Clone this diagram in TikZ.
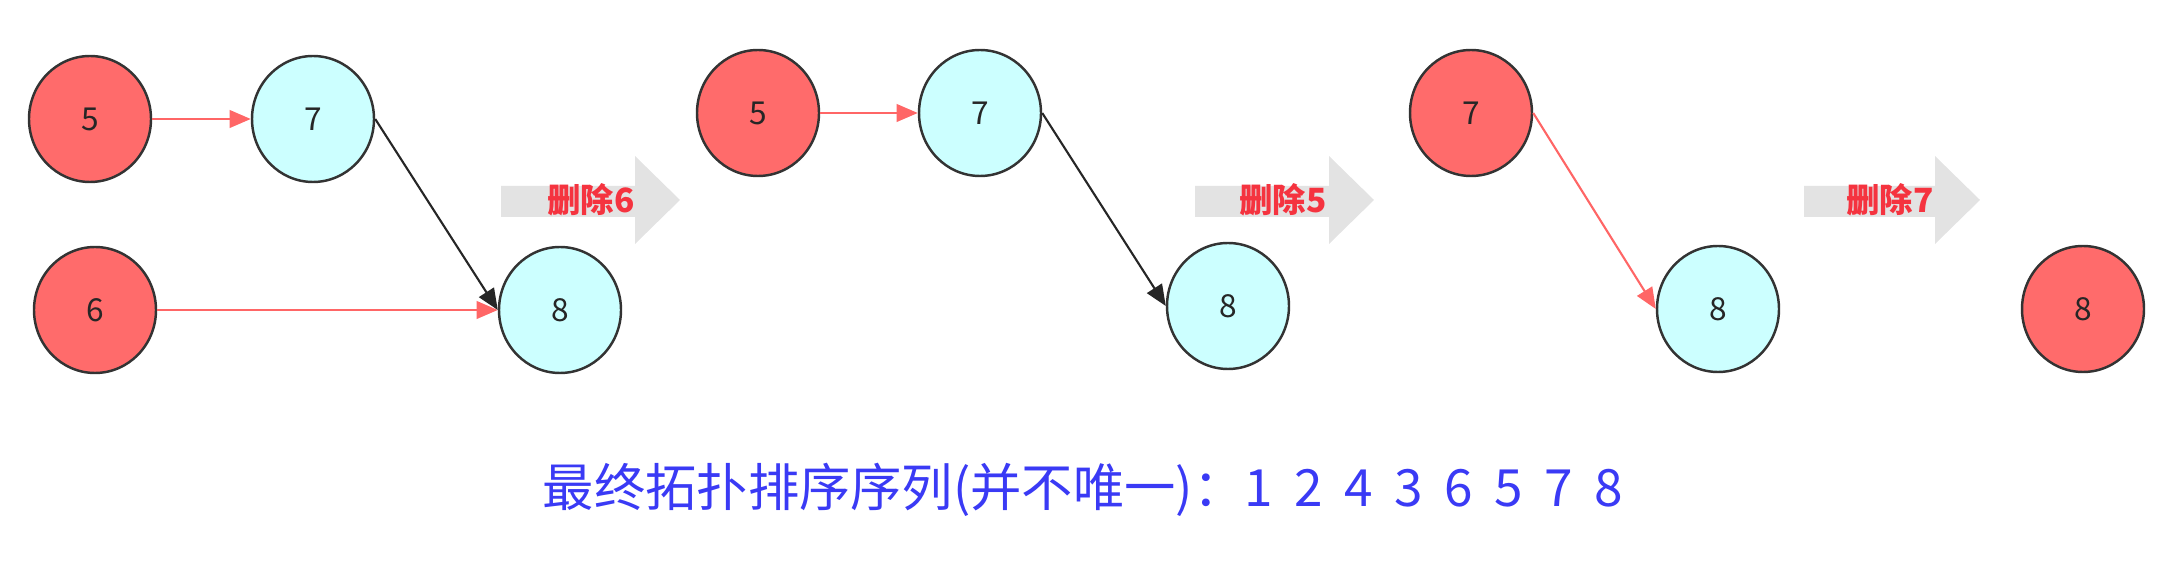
\documentclass[tikz,border=0pt]{standalone}
\usepackage{fontspec}
\setmainfont{Noto Sans CJK SC}
\usetikzlibrary{shapes.geometric,arrows.meta}
\definecolor{nred}{HTML}{FF6B6B}
\definecolor{ncyan}{HTML}{CCFFFF}
\definecolor{ered}{HTML}{FF6666}
\definecolor{bigarrow}{HTML}{E3E3E3}
\definecolor{txtred}{HTML}{F5333F}
\definecolor{txtblue}{HTML}{3A3AF5}
\tikzset{
  vnode/.style={ellipse,draw=black!80,line width=0.7pt,minimum width=1.22cm,minimum height=1.26cm,inner sep=0pt,font=\fontsize{9}{10}\selectfont,text=black!85},
  rnode/.style={vnode,fill=nred},
  cnode/.style={vnode,fill=ncyan},
  redge/.style={draw=ered,line width=0.6pt,-{Triangle[length=6pt,width=5pt]}},
  bedge/.style={draw=black!85,line width=0.6pt,-{Triangle[length=6pt,width=5pt]}},
  steplabel/.style={font=\bfseries\fontsize{9.5}{10}\selectfont,text=txtred,inner sep=0pt}
}
\newcommand{\bigarr}[2]{% x start, x end (px)
  \fill[bigarrow] (#1/100,-1.86) -- ({(#2-45)/100},-1.86) -- ({(#2-45)/100},-1.56) -- (#2/100,-2.0) -- ({(#2-45)/100},-2.44) -- ({(#2-45)/100},-2.17) -- (#1/100,-2.17) -- cycle;}
\newcommand{\dsp}{\hspace{0.42em}}
\begin{document}
\begin{tikzpicture}
\useasboundingbox (0,0) rectangle (21.64,-5.78);
% panel 1
\node[rnode] (a5) at (0.90,-1.19) {5};
\node[cnode] (a7) at (3.13,-1.19) {7};
\node[rnode] (a6) at (0.95,-3.10) {6};
\node[cnode] (a8) at (5.60,-3.10) {8};
\draw[redge] (a5) -- (a7);
\draw[redge] (a6) -- (a8);
\draw[bedge] (a7.east) -- (a8.west);
\bigarr{501}{680}
\node[steplabel] (t1) at (5.91,-2.00) {删除6};
% panel 2
\node[rnode] (b5) at (7.58,-1.13) {5};
\node[cnode] (b7) at (9.80,-1.13) {7};
\node[cnode] (b8) at (12.28,-3.06) {8};
\draw[redge] (b5) -- (b7);
\draw[bedge] (b7.east) -- (b8.west);
\bigarr{1195}{1374}
\node[steplabel] (t2) at (12.83,-2.00) {删除5};
% panel 3
\node[rnode] (c7) at (14.71,-1.13) {7};
\node[cnode] (c8) at (17.18,-3.09) {8};
\draw[redge] (c7.east) -- (c8.west);
\bigarr{1804}{1980}
\node[steplabel] (t3) at (18.90,-2.00) {删除7};
% final
\node[rnode] (d8) at (20.83,-3.09) {8};
% bottom text
\node[text=txtblue,font=\fontsize{14.6}{17}\selectfont,inner sep=0pt] (res) at (10.83,-4.90) {最终拓扑排序序列(并不唯一)：1\dsp 2\dsp 4\dsp 3\dsp 6\dsp 5\dsp 7\dsp 8};
\end{tikzpicture}
\end{document}
